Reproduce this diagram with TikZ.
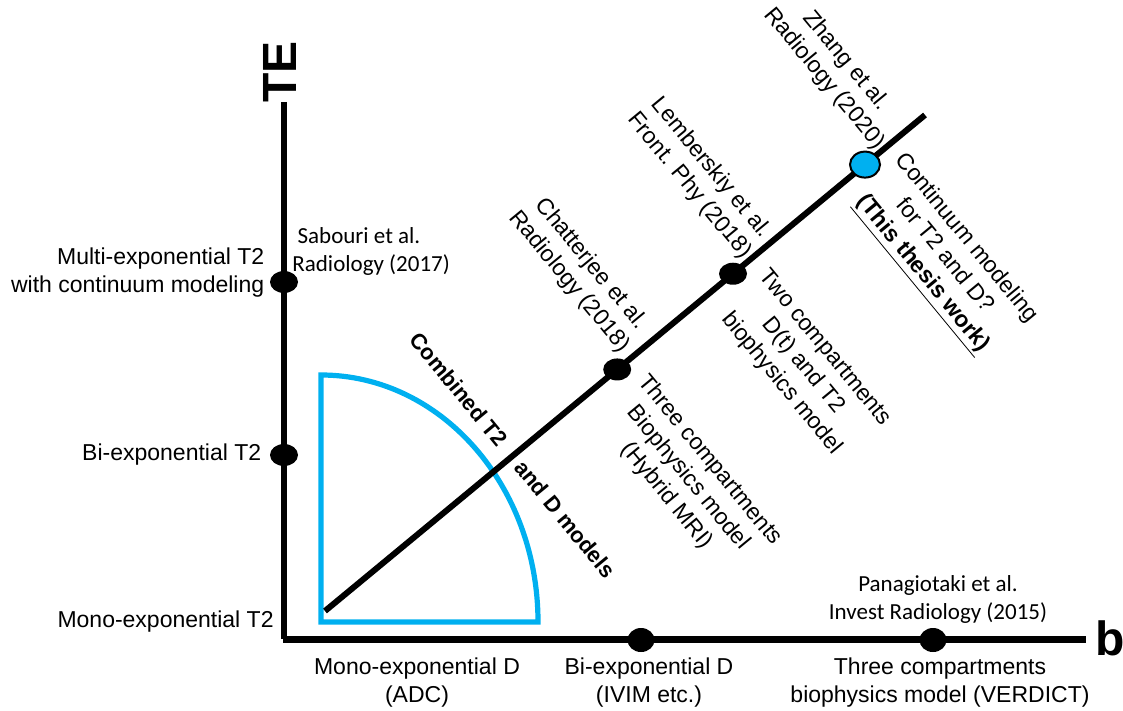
\documentclass[tikz,border=0pt]{standalone}
\usepackage{fontspec}
\setmainfont{Liberation Sans}
\newfontfamily\calibri{Carlito}
\usepackage{tikz}
\usetikzlibrary{positioning,shapes.geometric}
\definecolor{skyblue}{HTML}{00B0F0}

\begin{document}
\begin{tikzpicture}[
    x=0.5pt, y=-0.5pt,
    axis/.style={line width=3pt, black, line join=miter},
    arm/.style={line width=3pt, black},
    quarter/.style={line width=2.6pt, skyblue, line join=miter},
    dot/.style={ellipse, fill=black, inner sep=0pt, minimum width=14pt, minimum height=11pt},
    bluedot/.style={ellipse, fill=skyblue, draw=black, line width=1pt, inner sep=0pt, minimum width=15pt, minimum height=13pt},
    lbl/.style={font=\fontsize{11.5}{14}\selectfont, inner sep=0pt},
    ref/.style={font=\calibri\fontsize{11.5}{14}\selectfont, inner sep=0pt},
    model/.style={font=\fontsize{11.5}{14}\selectfont, align=center, rotate=-50.5, inner sep=0pt},
    axlbl/.style={font=\fontsize{24}{24}\selectfont\bfseries, inner sep=0pt}
]
    \useasboundingbox (0,0) rectangle (1123,711);

    % Axes
    \coordinate (top) at (284,102);
    \coordinate (origin) at (284,639);
    \coordinate (right) at (1086,639);
    \draw[axis] (top) -- (origin);
    \draw[axis, line width=3.5pt] (282.5,639) -- (right);
    \node[axlbl, rotate=90] (te) at (280,72) {TE};
    \node[axlbl] (b) at (1110,638) {b};

    % Quarter region
    \draw[quarter] (321,375) -- (321,622) -- (538,622)
        arc[start angle=0, end angle=-90, x radius=217, y radius=247] -- cycle;

    % Diagonal with its models
    \coordinate (dstart) at (325,611);
    \coordinate (dend) at (925,115);
    \draw[arm] (dstart) -- (dend)
        node[dot, pos=0.487] (hybrid) {}
        node[dot, pos=0.68] (twocomp) {}
        node[bluedot, pos=0.9] (thesis) {};

    % Dots on the axes
    \node[dot] (multi) at (284,282) {};
    \node[dot] (bi) at (284,455) {};
    \node[dot, minimum width=13.5pt, minimum height=12pt] (ivim) at (641,640) {};
    \node[dot, minimum width=13.5pt, minimum height=12pt] (verdict) at (933,640) {};

    % TE labels
    \node[lbl, align=right, left=2.5pt of multi, yshift=4.5pt] (multilbl) {Multi-exponential T2\\with continuum modeling};
    \node[lbl, left=4pt of bi] (bilbl) {Bi-exponential T2};
    \node[lbl, anchor=east] (monolbl) at (274,622) {Mono-exponential T2};
    \node[ref, align=left, anchor=west] (sabouri) at (292,251) {\ Sabouri et al.\\Radiology (2017)};

    % b labels
    \node[lbl, align=center] (adc) at (417,683) {Mono-exponential D\\(ADC)};
    \node[lbl, align=center] (ivimlbl) at (649,683) {Bi-exponential D\\(IVIM etc.)};
    \node[lbl, align=center] (verdictlbl) at (940,683) {Three compartments\\biophysics model (VERDICT)};
    \node[ref, align=center] (panag) at (938,599) {Panagiotaki et al.\\Invest Radiology (2015)};

    % Diagonal labels
    \node[model, font=\fontsize{11}{14}\selectfont\bfseries] (combined) at (513,455) {Combined T2\hspace{13pt}and D models};
    \node[model] (chat) at (580,273) {Chatterjee et al.\\Radiology (2018)};
    \node[model] (lemb) at (700,177) {Lemberskiy et al.\\Front. Phy (2018)};
    \node[model] (zhang) at (835,70) {Zhang et al.\\Radiology (2020)};
    \node[model] (hyblbl) at (688,478) {Three compartments\\Biophysics model\\(Hybrid MRI)};
    \node[model] (twolbl) at (803,366) {Two compartments\\D(t) and T2\\biophysics model};
    \node[model] (thesislbl) at (943,257) {Continuum modeling\\for T2 and D?\\\underline{\textbf{(This thesis work)}}};
\end{tikzpicture}
\end{document}
